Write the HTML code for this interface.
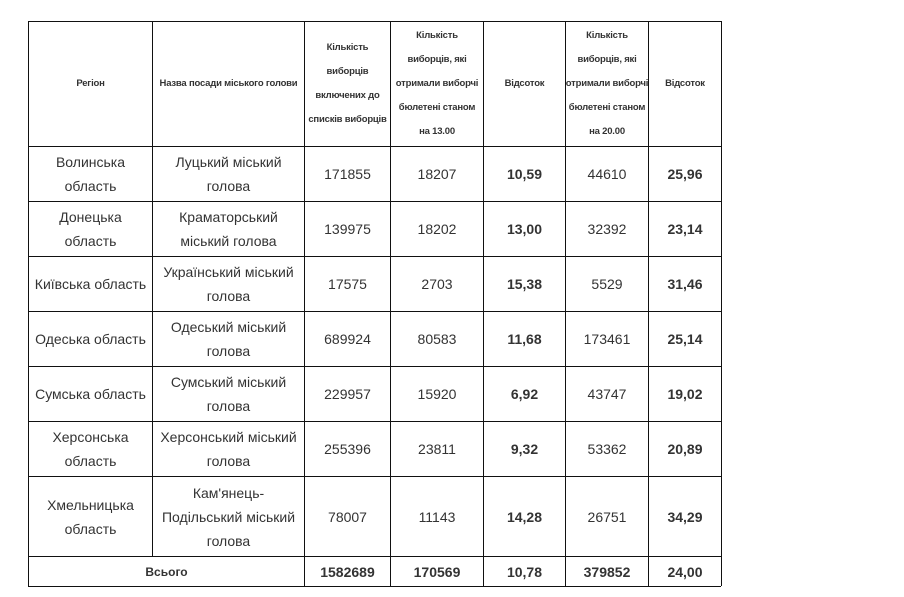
<!DOCTYPE html>
<html><head><meta charset="utf-8"><style>
body{margin:0;background:#fff;width:904px;height:597px;position:relative;overflow:hidden;font-family:"Liberation Sans","DejaVu Sans",sans-serif;color:#333}
.c{position:absolute;display:flex;align-items:center;justify-content:center;text-align:center;box-sizing:border-box;border-left:1px solid #111;border-top:1px solid #111}
.h{font-size:9.5px;font-weight:bold;line-height:24px;white-space:nowrap;letter-spacing:-0.2px}
.b{font-size:14px;line-height:24px}
.bb{font-weight:bold}
.r{position:absolute;border-right:1px solid #111}
.bt{position:absolute;border-bottom:1px solid #111}
</style></head><body>
<div id="t"></div>
<script>
var X=[28,152,304,390,483,565,648,721],Y=[21,146,201,256,311,366,421,476,556,586];
var H=["Регіон","Назва посади міського голови","Кількість<br>виборців<br>включених до<br>списків виборців","Кількість<br>виборців, які<br>отримали виборчі<br>бюлетені станом<br>на 13.00","Відсоток","Кількість<br>виборців, які<br>отримали виборчі<br>бюлетені станом<br>на 20.00","Відсоток"];
var D=[["Волинська<br>область","Луцький міський<br>голова","171855","18207","10,59","44610","25,96"],
["Донецька<br>область","Краматорський<br>міський голова","139975","18202","13,00","32392","23,14"],
["Київська область","Український міський<br>голова","17575","2703","15,38","5529","31,46"],
["Одеська область","Одеський міський<br>голова","689924","80583","11,68","173461","25,14"],
["Сумська область","Сумський міський<br>голова","229957","15920","6,92","43747","19,02"],
["Херсонська<br>область","Херсонський міський<br>голова","255396","23811","9,32","53362","20,89"],
["Хмельницька<br>область","Кам'янець-<br>Подільський міський<br>голова","78007","11143","14,28","26751","34,29"]];
var s="";
function cell(x0,x1,y0,y1,cls,txt){s+='<div class="c '+cls+'" style="left:'+x0+'px;top:'+y0+'px;width:'+(x1-x0)+'px;height:'+(y1-y0)+'px">'+txt+'</div>';}
for(var i=0;i<7;i++)cell(X[i],X[i+1],Y[0],Y[1],"h",H[i]);
for(var r=0;r<7;r++)for(var i=0;i<7;i++)cell(X[i],X[i+1],Y[r+1],Y[r+2],"b"+((i==4||i==6)?" bb":""),D[r][i]);
cell(X[0],X[2],Y[8],Y[9],"b bb","<span style='font-size:12px'>Всього</span>");
var T=["1582689","170569","10,78","379852","24,00"];
for(var i=0;i<5;i++)cell(X[i+2],X[i+3],Y[8],Y[9],"b bb",T[i]);
s+='<div class="r" style="left:'+(X[7]-1)+'px;top:21px;width:1px;height:565px"></div>';
s+='<div class="bt" style="left:28px;top:'+(Y[9]-1)+'px;width:693px;height:1px"></div>';
document.getElementById("t").innerHTML=s;
</script>
</body></html>
